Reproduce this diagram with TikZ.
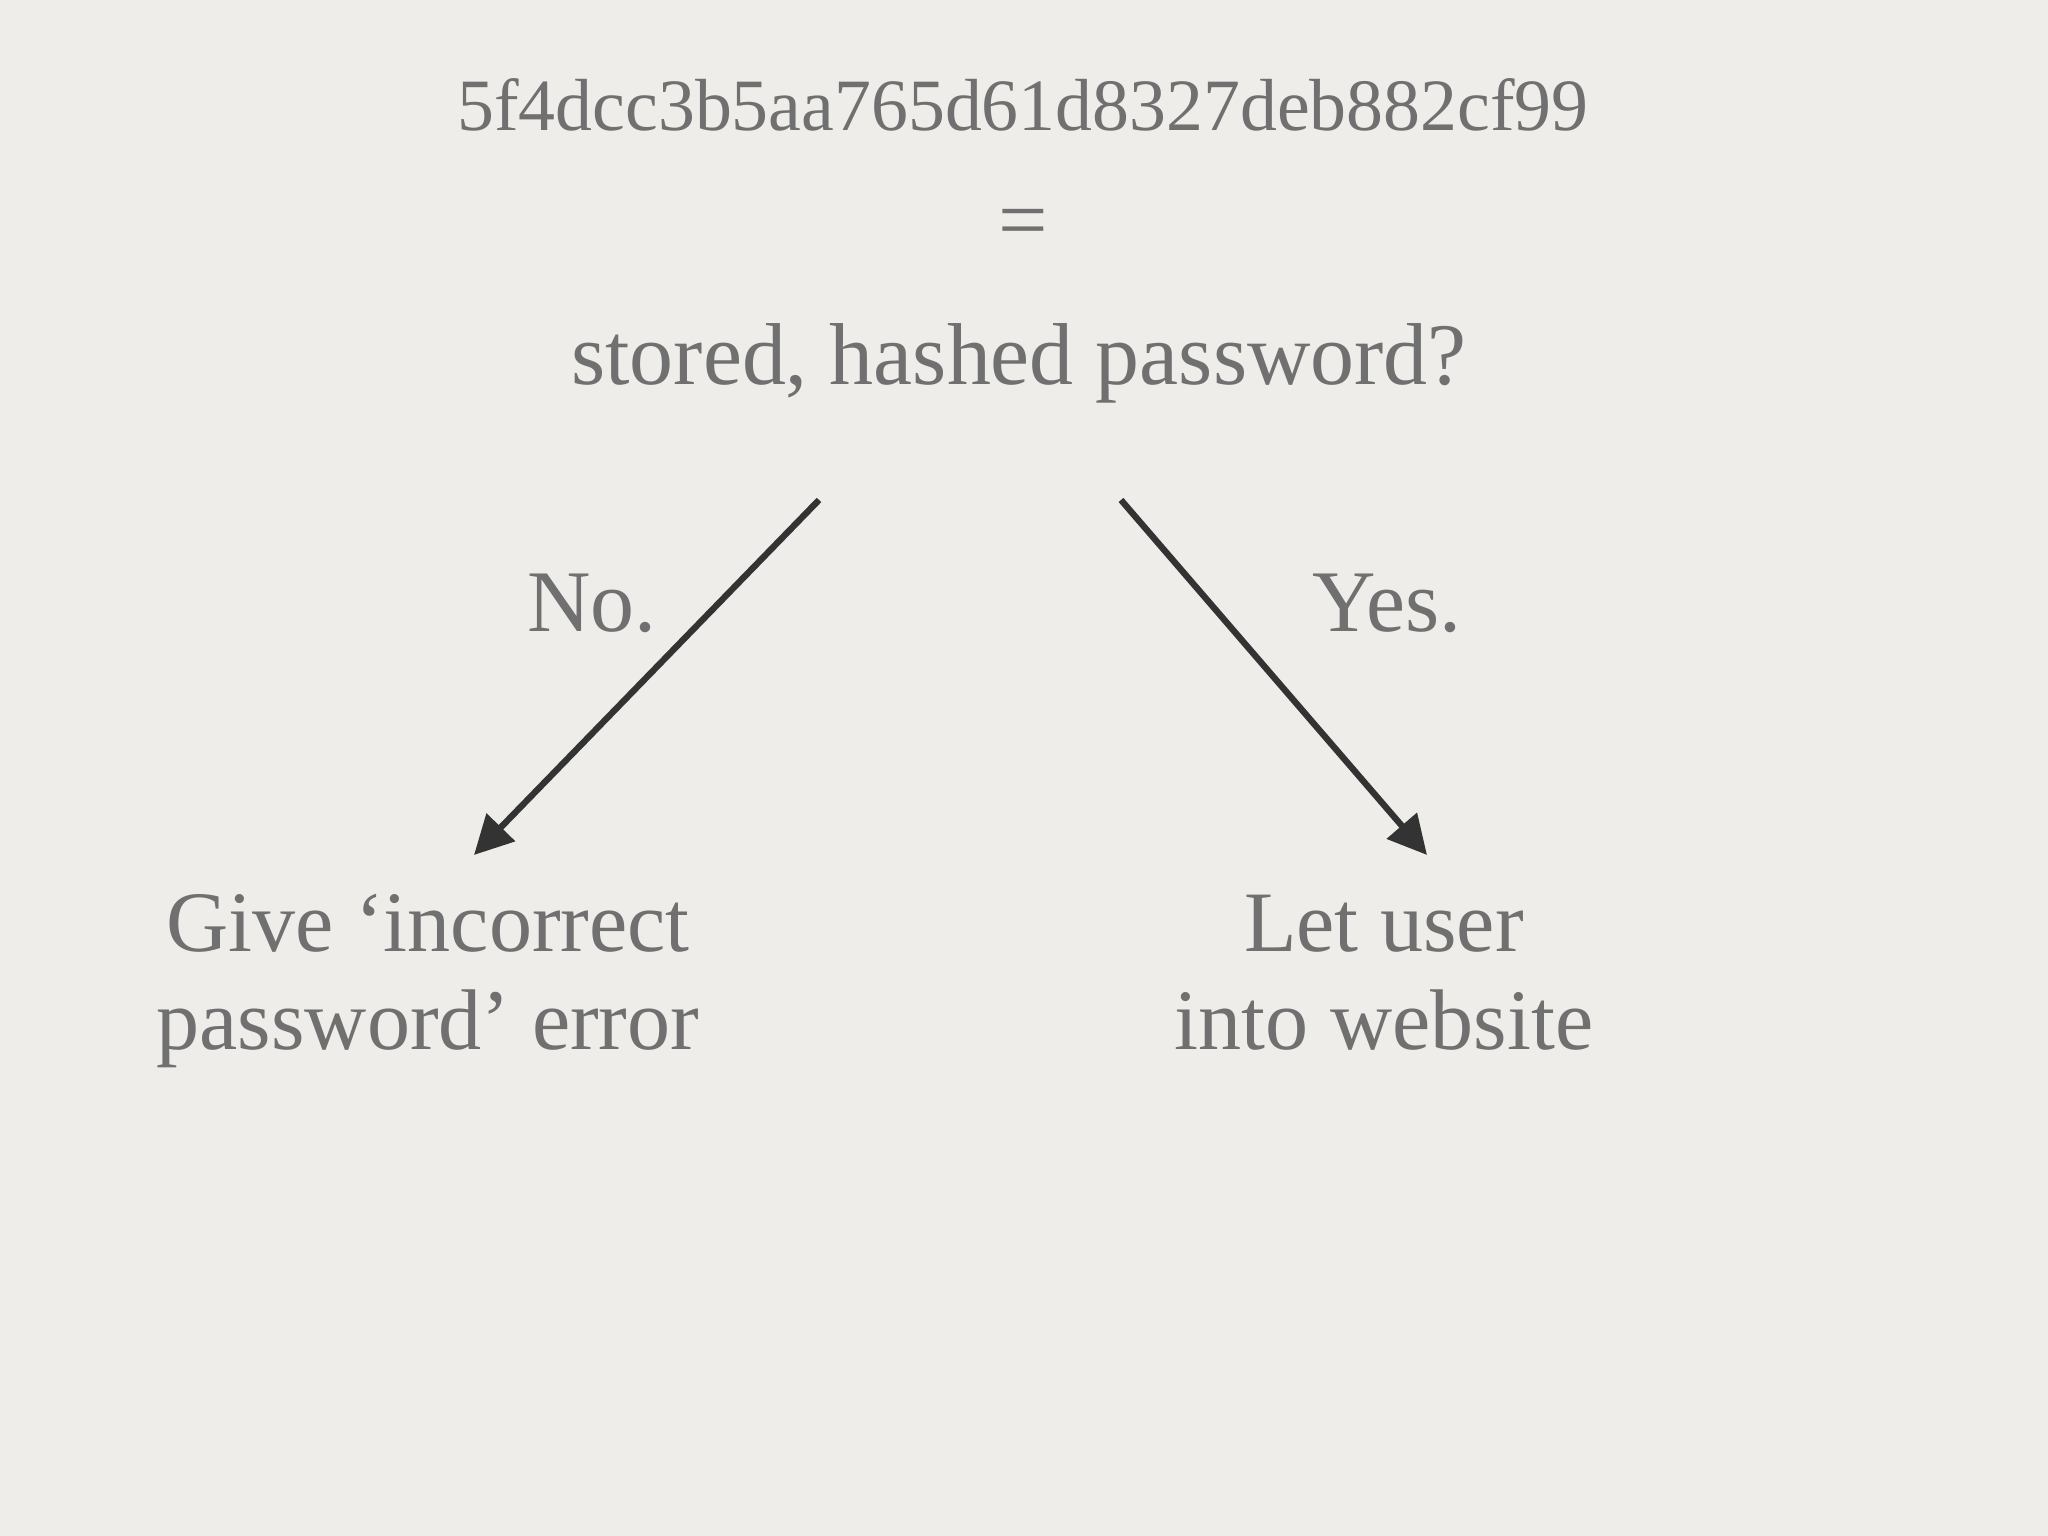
\documentclass[tikz,border=0pt]{standalone}
\usepackage{fontspec}
\setmainfont{Liberation Serif}
\usetikzlibrary{arrows.meta}
\definecolor{bg}{HTML}{EEEDEA}
\definecolor{txt}{HTML}{707070}
\definecolor{arr}{HTML}{333333}
\begin{document}
\begin{tikzpicture}[
  lbl/.style={text=txt,font=\fontsize{25}{28}\selectfont,align=center,inner sep=0pt},
  arrowline/.style={draw=arr,line width=1.8pt,-{Triangle[length=11pt,width=11pt]}}]
\fill[bg] (0,0) rectangle (20.48,15.36);
\useasboundingbox (0,0) rectangle (20.48,15.36);
\node[lbl,font=\fontsize{21}{24}\selectfont] (hash) at (10.23,14.31) {5f4dcc3b5aa765d61d8327deb882cf99};
\node[lbl] (eq) at (10.23,13.07) {=};
\node[lbl] (q) at (10.19,11.73) {stored, hashed password?};
\node[lbl] (no) at (5.92,9.33) {No.};
\node[lbl] (yes) at (13.87,9.33) {Yes.};
\node[lbl,font=\fontsize{24.5}{28}\selectfont] (err) at (4.28,5.55) {Give ‘incorrect\\password’ error};
\node[lbl,font=\fontsize{24.5}{28}\selectfont] (ok) at (13.84,5.63) {Let user\\into website};
\coordinate (ls) at (8.19,10.36);
\coordinate (le) at (4.74,6.81);
\coordinate (rs) at (11.21,10.36);
\coordinate (re) at (14.27,6.81);
\draw[arrowline] (ls) -- (le);
\draw[arrowline] (rs) -- (re);
\end{tikzpicture}
\end{document}
